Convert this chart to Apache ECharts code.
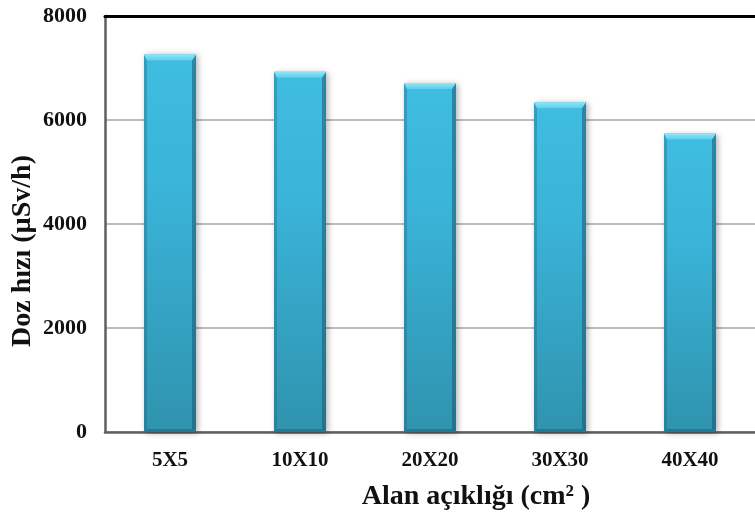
<!DOCTYPE html>
<html>
<head>
<meta charset="utf-8">
<script src="https://cdn.jsdelivr.net/npm/echarts@6/dist/echarts.min.js"></script>
<style>
  html, body { margin: 0; padding: 0; background: #fff; }
  #chart { width: 755px; height: 518px; }
</style>
</head>
<body>
<div id="chart"></div>
<script>
// Field size categories and measured dose rates
var categories = ['5X5', '10X10', '20X20', '30X30', '40X40'];
var doseRates = [7260, 6930, 6710, 6340, 5740];
var yTicks = [0, 2000, 4000, 6000, 8000];

var FONT = '"Liberation Serif", "Times New Roman", serif';

// Bevelled bar: body gradient, darker side strips, light top chamfer
function renderBar(params, api) {
  var idx = api.value(0);
  var top = api.coord([idx, api.value(1)]);
  var base = api.coord([idx, 0]);
  var w = api.size([1, 0])[0] * 0.40;
  var x0 = top[0] - w / 2, x1 = top[0] + w / 2;
  var y0 = top[1], y1 = base[1];
  var b = 6;
  return {
    type: 'group',
    children: [
      {
        type: 'rect',
        shape: { x: x0, y: y0, width: w, height: y1 - y0 },
        style: {
          fill: new echarts.graphic.LinearGradient(0, 0, 0, 1, [
            { offset: 0, color: '#3fbde1' },
            { offset: 0.35, color: '#3ab4d9' },
            { offset: 1, color: '#2f93ae' }
          ]),
          shadowBlur: 6, shadowOffsetX: 2, shadowOffsetY: 1,
          shadowColor: 'rgba(0,0,0,0.30)'
        }
      },
      {
        type: 'polygon',
        shape: { points: [[x0, y0], [x0 + 3, y0 + b], [x0 + 3, y1 - 3], [x0, y1]] },
        style: { fill: 'rgba(30,100,125,0.35)' }
      },
      {
        type: 'polygon',
        shape: { points: [[x1, y0], [x1 - 4, y0 + b], [x1 - 4, y1 - 3], [x1, y1]] },
        style: { fill: 'rgba(25,90,115,0.55)' }
      },
      {
        type: 'polygon',
        shape: { points: [[x0, y1], [x0 + 3, y1 - 3], [x1 - 4, y1 - 3], [x1, y1]] },
        style: { fill: 'rgba(25,90,115,0.45)' }
      },
      {
        type: 'polygon',
        shape: { points: [[x0, y0], [x1, y0], [x1 - 4, y0 + b], [x0 + 3, y0 + b]] },
        style: {
          fill: new echarts.graphic.LinearGradient(0, 0, 0, 1, [
            { offset: 0, color: '#8fe6f8' },
            { offset: 1, color: '#5ccdec' }
          ])
        }
      }
    ]
  };
}

var chart = echarts.init(document.getElementById('chart'), null, { renderer: 'canvas' });
chart.setOption({
  animation: false,
  backgroundColor: '#ffffff',
  grid: { left: 105, right: -11, top: 16, bottom: 86, containLabel: false },
  xAxis: [
    {
      type: 'category',
      data: categories,
      boundaryGap: true,
      axisLine: { lineStyle: { color: '#5f5f5f', width: 2.5 } },
      axisTick: { inside: true, length: 5, alignWithLabel: false, lineStyle: { color: '#8a8a8a', width: 1 } },
      axisLabel: { color: '#111', fontFamily: FONT, fontWeight: 'bold', fontSize: 21, margin: 18 }
    },
    {
      type: 'category',
      data: categories,
      position: 'top',
      axisLine: { lineStyle: { color: '#000', width: 3 } },
      axisTick: { show: false },
      axisLabel: { show: false }
    }
  ],
  yAxis: {
    type: 'value',
    min: 0, max: 8000, interval: 2000,
    axisLine: { show: true, lineStyle: { color: '#5f5f5f', width: 2.5 } },
    axisTick: { show: false },
    splitLine: { lineStyle: { color: '#a6a6a6', width: 1.5 } },
    axisLabel: {
      color: '#111', fontFamily: FONT, fontWeight: 'bold', fontSize: 22, margin: 18,
      formatter: function (v) { return yTicks.indexOf(v) >= 0 ? String(v) : ''; }
    }
  },
  series: [{
    type: 'custom',
    renderItem: renderBar,
    encode: { x: 0, y: 1 },
    data: categories.map(function (c, i) { return [i, doseRates[i]]; }),
    z: 3
  }],
  graphic: [
    {
      type: 'text',
      x: 23, y: 251,
      rotation: Math.PI / 2,
      style: {
        text: 'Doz hızı (µSv/h)',
        fill: '#111', font: 'bold 28px ' + FONT,
        textAlign: 'center', textVerticalAlign: 'middle'
      }
    },
    {
      type: 'text',
      x: 476, y: 497,
      style: {
        text: 'Alan açıklığı (cm² )',
        fill: '#111', font: 'bold 28px ' + FONT,
        textAlign: 'center', textVerticalAlign: 'middle'
      }
    }
  ]
});
</script>
</body>
</html>
